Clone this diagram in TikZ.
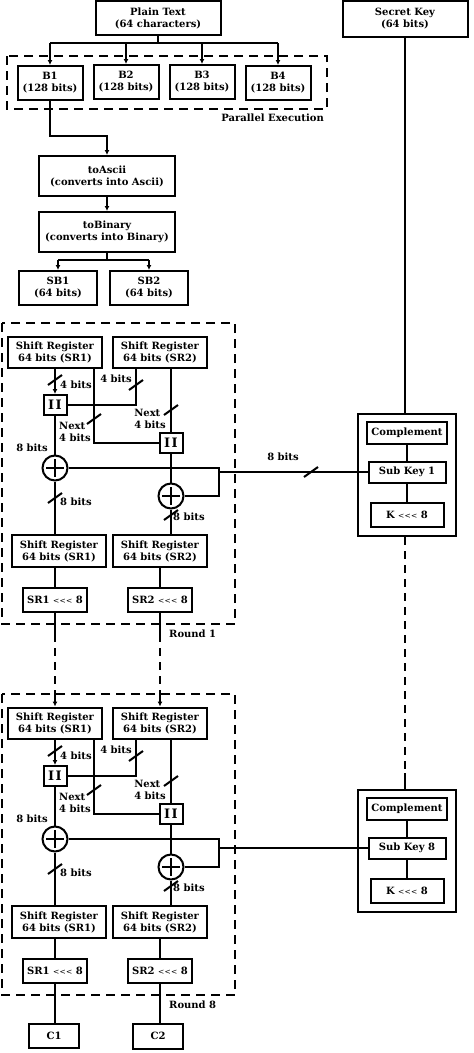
\documentclass[tikz,border=0pt]{standalone}
\usepackage{fontspec}
\setmainfont{DejaVu Serif}
\usetikzlibrary{arrows.meta}
\tikzset{
  every node/.style={font=\fontsize{10}{12}\selectfont\bfseries},
  block/.style={draw, line width=2pt, align=center, inner sep=1pt},
  wire/.style={line width=2pt},
  roundbox/.style={line width=2.2pt, dash pattern=on 9pt off 6pt},
  linkdash/.style={line width=2pt, dash pattern=on 8pt off 6pt},
  lbl/.style={inner sep=0pt, align=left},
  ccat/.style={block, minimum width=23pt, minimum height=20pt, font=\fontsize{13}{13}\selectfont\bfseries},
  xorop/.style={circle, draw, line width=2pt, minimum size=25pt, inner sep=0pt,
    path picture={\draw[line width=2.2pt] (path picture bounding box.center) +(-9pt,0pt) -- +(9pt,0pt) +(0pt,-9pt) -- +(0pt,9pt);}},
  busmark/.pic={\draw[line width=2pt] (-7,5) -- (7,-5);},
  >={Latex[length=5pt,width=5pt]}
}
\newcommand{\rotl}{{\mdseries\fontsize{7.5}{7.5}\selectfont\textless\kern0.2pt\textless\kern0.2pt\textless}}
\begin{document}
\begin{tikzpicture}[x=1pt,y=-1pt]
\useasboundingbox (0,0) rectangle (474,1053);
\node[block, minimum width=125pt, minimum height=34pt] (plain) at (158,18) {Plain Text\\(64 characters)};
\node[block, minimum width=125pt, minimum height=36pt] (secret) at (405,19) {Secret Key\\(64 bits)};
\draw[roundbox] (7,56) rectangle (327,109);
\node[lbl, anchor=east] (par) at (324,118) {Parallel Execution};
\node[block, minimum width=65pt, minimum height=34pt] (b1) at (50,83) {B1\\(128 bits)};
\node[block, minimum width=65pt, minimum height=34pt] (b2) at (126,82) {B2\\(128 bits)};
\node[block, minimum width=65pt, minimum height=34pt] (b3) at (202,82) {B3\\(128 bits)};
\node[block, minimum width=65pt, minimum height=34pt] (b4) at (278,83) {B4\\(128 bits)};
\coordinate (split) at (0,43);
\draw[wire] (plain.south) -- (plain.south |- split);
\draw[wire] (b1.north |- split) -- (b4.north |- split);
\foreach \blk in {b1,b2,b3,b4}
  \draw[wire,->] (\blk.north |- split) -- (\blk.north);
\node[block, minimum width=136pt, minimum height=40pt] (ascii) at (107,176) {toAscii\\(converts into Ascii)};
\node[block, minimum width=136pt, minimum height=40pt] (binary) at (107,232) {toBinary\\(converts into Binary)};
\draw[wire,->] (b1.south) -- ++(0,35) -| (ascii.north);
\draw[wire,->] (ascii.south) -- (binary.north);
\node[block, minimum width=78pt, minimum height=34pt] (sb1) at (58,288) {SB1\\(64 bits)};
\node[block, minimum width=78pt, minimum height=34pt] (sb2) at (149,288) {SB2\\(64 bits)};
\coordinate (split2) at (0,260);
\draw[wire] (binary.south) -- (binary.south |- split2);
\draw[wire] (sb1.north |- split2) -- (sb2.north |- split2);
\draw[wire,->] (sb1.north |- split2) -- (sb1.north);
\draw[wire,->] (sb2.north |- split2) -- (sb2.north);
\foreach \rnd/\dy/\dk in {1/0/0,8/371/376} {
  \begin{scope}[shift={(0,\dk)}]
  \node[block, minimum width=98pt, minimum height=122pt] (keyo\rnd) at (407,475) {};
  \node[block, minimum width=80pt, minimum height=22pt] (comp\rnd) at (407,433) {Complement};
  \node[block, minimum width=77pt, minimum height=21pt] (sub\rnd) at (407,472) {Sub Key \rnd};
  \node[block, minimum width=73pt, minimum height=24pt] (krot\rnd) at (407,515) {K \rotl{} 8};
  \draw[wire] (comp\rnd) -- (sub\rnd);
  \draw[wire] (sub\rnd) -- (krot\rnd);
  \end{scope}
  \begin{scope}[shift={(0,\dy)}]
  \draw[roundbox] (2,323) rectangle (235,624);
  \node[lbl, anchor=west] at (169,634) {Round \rnd};
  \node[block, minimum width=94pt, minimum height=31pt] (srA\rnd) at (55,352) {Shift Register\\64 bits (SR1)};
  \node[block, minimum width=94pt, minimum height=31pt] (srB\rnd) at (160,352) {Shift Register\\64 bits (SR2)};
  \node[ccat] (ccA\rnd) at (55,405) {I\kern1.5ptI};
  \node[ccat] (ccB\rnd) at (171,443) {I\kern1.5ptI};
  \node[xorop] (xorA\rnd) at (55,468) {};
  \node[xorop] (xorB\rnd) at (171,496) {};
  \node[block, minimum width=94pt, minimum height=32pt] (srC\rnd) at (59,551) {Shift Register\\64 bits (SR1)};
  \node[block, minimum width=94pt, minimum height=32pt] (srD\rnd) at (160,551) {Shift Register\\64 bits (SR2)};
  \node[block, minimum width=64pt, minimum height=24pt] (rotA\rnd) at (55,600) {SR1 \rotl{} 8};
  \node[block, minimum width=64pt, minimum height=24pt] (rotB\rnd) at (160,600) {SR2 \rotl{} 8};
  \coordinate (tapA\rnd) at (94,0);
  \coordinate (tapB\rnd) at (136,0);
  \coordinate (kx\rnd) at (219,0);
  \draw[wire,->] (ccA\rnd.north |- srA\rnd.south) -- (ccA\rnd.north);
  \draw[wire] (srA\rnd.south -| tapA\rnd) |- (ccB\rnd.west);
  \draw[wire] (srB\rnd.south -| tapB\rnd) |- (ccA\rnd.east);
  \draw[wire] (ccB\rnd.north |- srB\rnd.south) -- (ccB\rnd.north);
  \draw[wire] (ccA\rnd) -- (xorA\rnd);
  \draw[wire] (ccB\rnd) -- (xorB\rnd);
  \draw[wire] (sub\rnd.west) -- (sub\rnd.west -| kx\rnd) coordinate (kj\rnd);
  \draw[wire] (xorA\rnd.east) -| (kj\rnd);
  \draw[wire] (xorB\rnd.east) -| (kj\rnd);
  \draw[wire] (xorA\rnd.south) -- (xorA\rnd.south |- srC\rnd.north);
  \draw[wire] (xorB\rnd.south) -- (xorB\rnd.south |- srD\rnd.north);
  \draw[wire] (rotA\rnd.north |- srC\rnd.south) -- (rotA\rnd.north);
  \draw[wire] (rotB\rnd.north |- srD\rnd.south) -- (rotB\rnd.north);
  \pic at (55,380) {busmark};
  \pic at (94,419) {busmark};
  \pic at (136,385) {busmark};
  \pic at (171,410) {busmark};
  \pic at (55,498) {busmark};
  \pic at (171,515) {busmark};
  \node[lbl, anchor=west] at (60,385) {4 bits};
  \node[lbl, anchor=west] at (59,432) {Next\\4 bits};
  \node[lbl] at (116,379) {4 bits};
  \node[lbl] at (150,419) {Next\\4 bits};
  \node[lbl] at (32,448) {8 bits};
  \node[lbl, anchor=west] at (60,502) {8 bits};
  \node[lbl, anchor=west] at (173,517) {8 bits};
  \end{scope}
}
\pic at (311,472) {busmark};
\node[lbl] at (283,457) {8 bits};
\draw[wire] (secret.south) -- (secret.south |- keyo1.north);
\draw[linkdash] (keyo1.south -| secret.south) -- ++(0,236) coordinate (kgap);
\draw[wire] (kgap) -- (kgap |- keyo8.north);
\draw[wire] (rotA1.south) -- ++(0,21) coordinate (gapA);
\draw[linkdash] (gapA) -- ++(0,57) coordinate (gapA2);
\draw[wire,->] (gapA2) -- (gapA2 |- srA8.north);
\draw[wire] (rotB1.south) -- ++(0,21) coordinate (gapB);
\draw[linkdash] (gapB) -- ++(0,57) coordinate (gapB2);
\draw[wire,->] (gapB2) -- (gapB2 |- srB8.north);
\node[block, minimum width=50pt, minimum height=24pt] (c1) at (54,1036) {C1};
\node[block, minimum width=50pt, minimum height=25pt] (c2) at (158,1036) {C2};
\draw[wire] (rotA8.south) -- (rotA8.south |- c1.north);
\draw[wire] (rotB8.south) -- (rotB8.south |- c2.north);
\end{tikzpicture}
\end{document}
